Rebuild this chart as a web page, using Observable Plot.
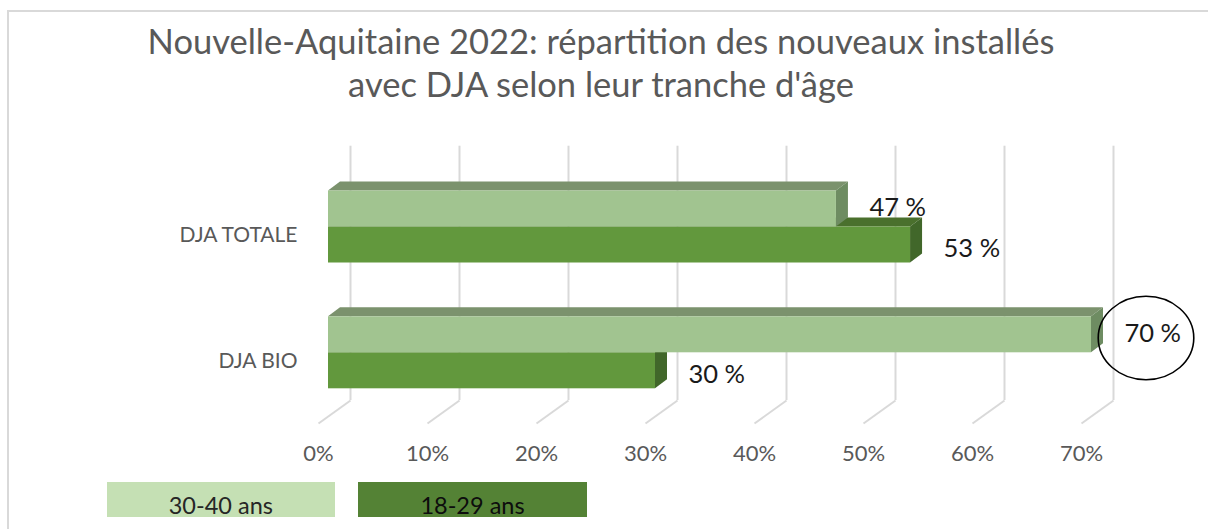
<!DOCTYPE html>
<html><head><meta charset="utf-8">
<script src="https://cdn.jsdelivr.net/npm/d3@7"></script>
<script src="https://cdn.jsdelivr.net/npm/@observablehq/plot@0.6"></script>
<style>
html,body{margin:0;padding:0;background:#fff;overflow:hidden;}
#wrap{position:relative;width:1208px;height:529px;overflow:hidden;font-family:Lato,sans-serif;}
#frame{position:absolute;left:6.5px;top:10px;width:1300px;height:700px;border:2.5px solid #d9d9d9;box-sizing:border-box;}
#title{position:absolute;left:0;width:1202px;top:19px;text-align:center;color:#595959;font-size:34.5px;line-height:43px;white-space:nowrap;}
#chart{position:absolute;left:0;top:0;}
.leg{position:absolute;top:481.7px;height:35.6px;}
.leg span{position:absolute;left:0;right:0;top:12px;text-align:center;font-size:23.5px;line-height:23.5px;white-space:nowrap;}
</style></head>
<body>
<div id="wrap">
  <div id="frame"></div>
  <div id="chart"></div>
  <div id="title">Nouvelle-Aquitaine 2022: répartition des nouveaux installés<br>avec DJA selon leur tranche d'âge</div>
  <div id="legend"></div>
</div>
<script>
// ---- data ----
const categories = ["DJA TOTALE", "DJA BIO"];
const seriesNames = ["30-40 ans", "18-29 ans"];
const share3040 = [46.6, 70];
const share1829 = [53.4, 30];
const xTicks = [0, 10, 20, 30, 40, 50, 60, 70];

// ---- styles ----
const frontColors = ["#a1c490", "#62983d"];
const topColors = ["#7b926d", "#4a702d"];
const sideColors = ["#6e8c62", "#41672a"];
const legendColors = ["#c5e0b4", "#548235"];
const legendText = ["#262626", "#0d0d0d"];

// ---- layout ----
const W = 1208, H = 529, mL = 318, mR = 127, mB = 84;
const yR = [226.5, 352.3];
const kx = 70 / (W - mL - mR);       // data units per px (x)
const ky = 1 / (yR[1] - yR[0]);      // data units per px (y)
const half = 36 * ky;                // bar thickness
const bdx = 12 * kx, bdy = 9 * ky;   // bar depth
const fdx = 32 * kx, fdy = 23 * ky;  // floor depth
const gridTop = (145.7 - yR[0]) * ky;
const floorBack = (400 - yR[0]) * ky;

const values = [share3040, share1829];
const rows = categories.flatMap((c, i) => seriesNames.map((s, k) => ({cat: c, i, s: k, value: values[k][i]})));
const yTop = d => d.s === 0 ? d.i - half : d.i;
const yBot = d => yTop(d) + half;
const yMid = d => yTop(d) + half / 2;

const marks = [];
// grid
marks.push(Plot.ruleX(xTicks, {x: d => d + fdx, y1: gridTop, y2: floorBack, stroke: "#d9d9d9", strokeWidth: 2}));
marks.push(Plot.link(xTicks, {x1: d => d + fdx, y1: floorBack, x2: d => d, y2: floorBack + fdy, stroke: "#d9d9d9", strokeWidth: 2}));

for (const s of [1, 0]) {
  const R = rows.filter(d => d.s === s);
  const tops = R.flatMap((d, j) => [
    {id: j, x1: 0, x2: d.value, y: yTop(d)},
    {id: j, x1: bdx, x2: d.value + bdx, y: yTop(d) - bdy}
  ]);
  const sides = R.flatMap((d, j) => [
    {id: j, x: d.value, y1: yTop(d), y2: yBot(d)},
    {id: j, x: d.value + bdx, y1: yTop(d) - bdy, y2: yBot(d) - bdy}
  ]);
  marks.push(Plot.areaX(tops, {x1: "x1", x2: "x2", y: "y", z: "id", fill: topColors[s], dx: 10}));
  marks.push(Plot.areaY(sides, {x: "x", y1: "y1", y2: "y2", z: "id", fill: sideColors[s], dx: 10}));
  marks.push(Plot.rect(R, {x1: d => 0, x2: "value", y1: yTop, y2: yBot, fill: frontColors[s], dx: 10}));
}

// value labels
for (const s of [0, 1]) {
  marks.push(Plot.text(rows.filter(d => d.s === s), {
    x: "value", y: yMid, text: d => Math.round(d.value) + " %",
    textAnchor: "start", lineAnchor: "bottom", dx: 43, dy: s === 0 ? 7 : 12,
    fontSize: 25.5, fill: "#1a1a1a"
  }));
}

// highlight ellipse around the largest value
const ellipse = {
  draw(ctx, size) {
    const ry = Math.sqrt(size / Math.PI), rx = ry * 1.146, k = 0.5523;
    ctx.moveTo(rx, 0);
    ctx.bezierCurveTo(rx, k * ry, k * rx, ry, 0, ry);
    ctx.bezierCurveTo(-k * rx, ry, -rx, k * ry, -rx, 0);
    ctx.bezierCurveTo(-rx, -k * ry, -k * rx, -ry, 0, -ry);
    ctx.bezierCurveTo(k * rx, -ry, rx, -k * ry, rx, 0);
    ctx.closePath();
  }
};
const hl = rows.reduce((a, b) => b.value > a.value ? b : a);
marks.push(Plot.dot([hl], {x: "value", y: yMid, r: 41.7, symbol: ellipse, stroke: "#000", strokeWidth: 1.6, fill: "none", dx: 64.5, dy: 3.2}));

// axes
marks.push(Plot.axisX(xTicks, {tickFormat: d => d + "%", tickSize: 0, tickPadding: 0, fontSize: 22, label: null}));
marks.push(Plot.axisY([0, 1], {tickFormat: i => categories[i], tickSize: 0, tickPadding: 21, fontSize: 21, dy: 8, label: null}));

const chart = Plot.plot({
  width: W, height: H,
  marginLeft: mL, marginRight: mR, marginTop: 0, marginBottom: mB,
  x: {domain: [0, 70], label: null},
  y: {domain: [0, 1], range: yR, label: null},
  style: {fontFamily: "Lato, sans-serif", color: "#595959", background: "transparent", overflow: "visible"},
  marks
});
document.getElementById("chart").appendChild(chart);

// legend
const legLeft = [106.7, 358], legWidth = [228.3, 229];
const leg = document.getElementById("legend");
seriesNames.forEach((name, k) => {
  const div = document.createElement("div");
  div.className = "leg";
  div.style.left = legLeft[k] + "px";
  div.style.width = legWidth[k] + "px";
  div.style.background = legendColors[k];
  const sp = document.createElement("span");
  sp.textContent = name;
  sp.style.color = legendText[k];
  div.appendChild(sp);
  leg.appendChild(div);
});
</script>
</body></html>
